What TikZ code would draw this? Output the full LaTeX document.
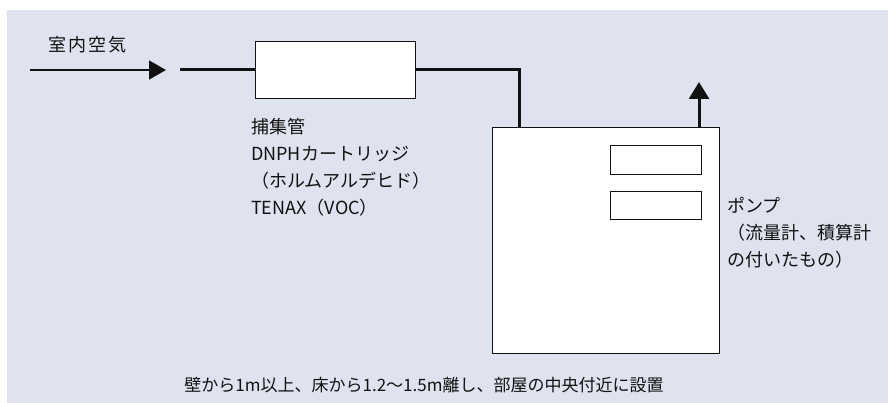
\documentclass[tikz,border=0pt]{standalone}
\usepackage{fontspec}
\setmainfont{Noto Sans CJK JP}
\usetikzlibrary{arrows.meta}
\definecolor{bgcol}{HTML}{DFE3EF}
\definecolor{ink}{HTML}{111111}
\tikzset{
  box/.style={draw=ink, fill=white, line width=1.3pt, inner sep=0pt, anchor=north west},
  pipe/.style={draw=ink, line width=3pt},
  thin/.style={draw=ink, line width=1.3pt},
  lbl/.style={text=ink, inner sep=0pt, font=\fontsize{18}{27}\selectfont, align=left},
}
\begin{document}
\begin{tikzpicture}[x=1pt, y=-1pt]
\useasboundingbox (0,0) rectangle (888,403);
\fill[bgcol] (7,10) rectangle (888,403);

% inlet
\node[lbl, anchor=west] (air) at (48,45) {\addfontfeature{LetterSpace=12}室内空気};
\coordinate (inA) at (30,70);
\coordinate (inB) at (166,70);
\draw[thin, -{Triangle[length=17pt,width=19pt]}] (inA) -- (inB);

% capture tube
\node[box, minimum width=160pt, minimum height=57pt] (cap) at (255,41) {};
\coordinate (pipeA) at (180,70);
\draw[pipe] (pipeA) -- (pipeA -| cap.west);
\coordinate (bend) at (519,70);

% pump
\node[box, minimum width=227pt, minimum height=226pt] (pump) at (492,127) {};
\node[box, minimum width=91pt, minimum height=29pt] (disp1) at (610,145) {};
\node[box, minimum width=91pt, minimum height=28pt] (disp2) at (610,191) {};
\coordinate (pumpIn) at (519,127);
\draw[pipe, line cap=butt] (cap.east |- bend) -- (bend) -- (pumpIn);

% outlet
\coordinate (outA) at (699,127);
\coordinate (outB) at (699,82);
\draw[pipe, -{Triangle[length=17pt,width=20pt]}] (outA) -- (outB);

% labels
\node[lbl, anchor=north west] (caplbl) at (251,118) {捕集管\\DNPHカートリッジ\\（ホルムアルデヒド）\\TENAX（VOC）};
\node[lbl, anchor=north west] (pumplbl) at (727,197) {ポンプ\\（流量計、積算計\\の付いたもの）};
\node[lbl, anchor=center, font=\fontsize{17}{20}\selectfont] (note) at (424,385) {壁から1m以上、床から1.2～1.5m離し、部屋の中央付近に設置};
\end{tikzpicture}
\end{document}
